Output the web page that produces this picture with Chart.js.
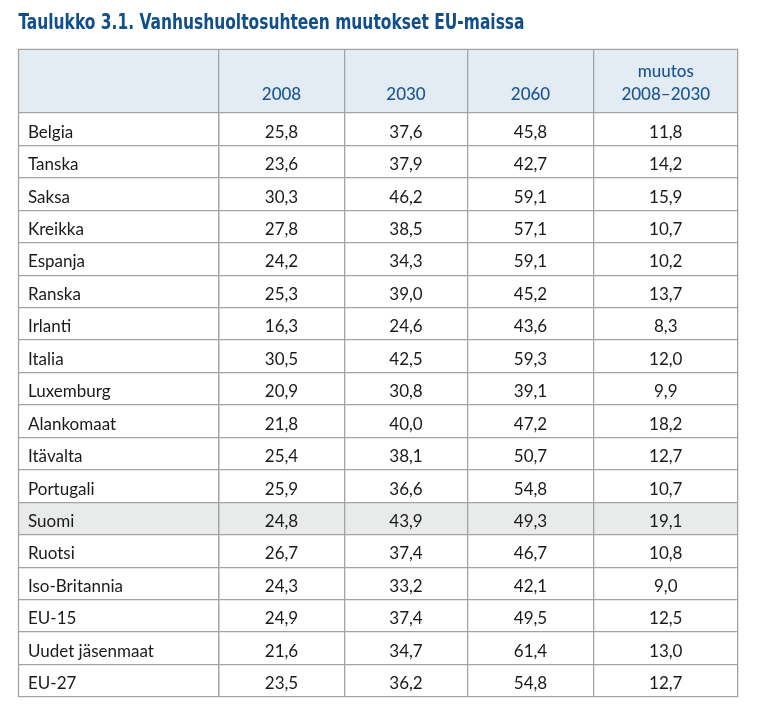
<!DOCTYPE html>
<html lang="fi">
<head>
<meta charset="utf-8">
<title>Taulukko 3.1</title>
<script src="https://cdn.jsdelivr.net/npm/chart.js@4.4.1/dist/chart.umd.min.js"></script>
<style>
  html, body { margin: 0; padding: 0; background: #fff; }
  #wrap { width: 758px; height: 717px; }
</style>
</head>
<body>
<div id="wrap"><canvas id="taulukko"></canvas></div>
<script>
const countries = ["Belgia", "Tanska", "Saksa", "Kreikka", "Espanja", "Ranska", "Irlanti", "Italia",
  "Luxemburg", "Alankomaat", "Itävalta", "Portugali", "Suomi", "Ruotsi", "Iso-Britannia",
  "EU-15", "Uudet jäsenmaat", "EU-27"];
const values2008 = [25.8, 23.6, 30.3, 27.8, 24.2, 25.3, 16.3, 30.5, 20.9, 21.8, 25.4, 25.9, 24.8, 26.7, 24.3, 24.9, 21.6, 23.5];
const values2030 = [37.6, 37.9, 46.2, 38.5, 34.3, 39.0, 24.6, 42.5, 30.8, 40.0, 38.1, 36.6, 43.9, 37.4, 33.2, 37.4, 34.7, 36.2];
const values2060 = [45.8, 42.7, 59.1, 57.1, 59.1, 45.2, 43.6, 59.3, 39.1, 47.2, 50.7, 54.8, 49.3, 46.7, 42.1, 49.5, 61.4, 54.8];
const change0830 = [11.8, 14.2, 15.9, 10.7, 10.2, 13.7, 8.3, 12.0, 9.9, 18.2, 12.7, 10.7, 19.1, 10.8, 9.0, 12.5, 13.0, 12.7];
const columnLabels = ["2008", "2030", "2060", ["muutos", "2008–2030"]];
const highlightRow = "Suomi";
const titleText = "Taulukko 3.1. Vanhushuoltosuhteen muutokset EU-maissa";

// layout of the table (pixels)
const firstColWidth = 200;
const colWidths = [126, 123, 126, 144.5];
const headerHeight = 63.5;
const nameIndent = 9.5;
const titleWidth = 506;

const LINE = "#a3a3a3";
const BODY_FONT = "Lato, 'Open Sans', sans-serif";

const colEdges = colWidths.reduce((acc, w) => { acc.push(acc[acc.length - 1] + w); return acc; }, [0]);
const colCenters = colWidths.map((w, i) => colEdges[i] + w / 2);
const totalWidth = colEdges[colEdges.length - 1];

function fmt(v) {
  return v.toFixed(1).replace(".", ",");
}

function column(values, i) {
  return {
    label: String(columnLabels[i]),
    data: values.map((v, r) => ({ x: colCenters[i], y: countries[r], v })),
    pointRadius: 0,
    pointHoverRadius: 0
  };
}

const tableLayer = {
  id: "tableLayer",
  afterLayout(chart) {
    // names sit a little inside the first column
    chart.scales.y.left += nameIndent;
    // the title is set in a condensed face: squeeze it to its width
    if (chart.titleBlock) {
      chart.titleBlock.right = chart.titleBlock.left + titleWidth;
    }
  },
  beforeDraw(chart) {
    const { ctx, chartArea, scales } = chart;
    const left = scales.y.right - firstColWidth;
    const headTop = scales.x.top;
    ctx.save();
    ctx.fillStyle = "#e3ebf3";
    ctx.fillRect(left, headTop, chartArea.right - left, chartArea.top - headTop);
    const idx = countries.indexOf(highlightRow);
    const band = (chartArea.bottom - chartArea.top) / countries.length;
    const cy = scales.y.getPixelForValue(idx);
    ctx.fillStyle = "#e9eaea";
    ctx.fillRect(left, cy - band / 2, chartArea.right - left, band);
    ctx.restore();
  },
  afterDatasetsDraw(chart) {
    const { ctx } = chart;
    ctx.save();
    ctx.fillStyle = "#1a1a1a";
    ctx.font = "17px " + BODY_FONT;
    ctx.textAlign = "center";
    ctx.textBaseline = "middle";
    chart.data.datasets.forEach((ds, i) => {
      chart.getDatasetMeta(i).data.forEach((el, j) => {
        ctx.fillText(fmt(ds.data[j].v), el.x, el.y + 3);
      });
    });
    ctx.restore();
  },
  afterDraw(chart) {
    const { ctx, chartArea, scales } = chart;
    const left = scales.y.right - firstColWidth;
    const headTop = scales.x.top;
    ctx.save();
    ctx.strokeStyle = LINE;
    ctx.lineWidth = 1.3;
    ctx.beginPath();
    ctx.moveTo(left, chartArea.bottom);
    ctx.lineTo(left, headTop);
    ctx.lineTo(chartArea.right, headTop);
    ctx.stroke();
    ctx.restore();
  }
};

new Chart(document.getElementById("taulukko"), {
  type: "scatter",
  data: {
    datasets: [
      column(values2008, 0),
      column(values2030, 1),
      column(values2060, 2),
      column(change0830, 3)
    ]
  },
  options: {
    responsive: true,
    maintainAspectRatio: false,
    animation: false,
    events: [],
    layout: { padding: { left: 18.5, right: 20, top: 0, bottom: 20 } },
    plugins: {
      legend: { display: false },
      tooltip: { enabled: false },
      title: {
        display: true,
        text: titleText,
        align: "start",
        color: "#0f4f8e",
        font: { family: "'Liberation Sans Narrow', 'DejaVu Sans Condensed', sans-serif", size: 22, weight: "bold", lineHeight: 1.2 },
        padding: { top: 10, bottom: 13 }
      }
    },
    scales: {
      x: {
        type: "linear",
        position: "top",
        weight: 1,
        min: 0,
        max: totalWidth,
        afterBuildTicks(scale) { scale.ticks = colCenters.map((value) => ({ value })); },
        afterFit(scale) { scale.height = headerHeight; },
        grid: { display: false, drawTicks: false },
        border: { display: false },
        ticks: {
          autoSkip: false,
          maxRotation: 0,
          padding: 7,
          color: "#1a5593",
          font: { family: BODY_FONT, size: 17, weight: 500, lineHeight: 1.35 },
          callback: (value, index) => columnLabels[index]
        }
      },
      x2: {
        type: "linear",
        position: "top",
        weight: 0,
        min: 0,
        max: totalWidth,
        afterBuildTicks(scale) { scale.ticks = colEdges.map((value) => ({ value })); },
        afterFit(scale) { scale.height = 0; },
        grid: { display: true, color: LINE, lineWidth: 1.3, drawTicks: true, tickLength: headerHeight },
        border: { display: false },
        ticks: { display: false }
      },
      y: {
        type: "category",
        labels: countries,
        offset: true,
        afterFit(scale) { scale.width = firstColWidth; },
        grid: { display: true, offset: true, color: LINE, lineWidth: 1.3, drawTicks: true, tickLength: firstColWidth },
        border: { display: true, color: LINE, width: 1.3 },
        ticks: {
          crossAlign: "far",
          labelOffset: 3,
          autoSkip: false,
          color: "#1a1a1a",
          font: { family: BODY_FONT, size: 17 }
        }
      }
    }
  },
  plugins: [tableLayer]
});
</script>
</body>
</html>
